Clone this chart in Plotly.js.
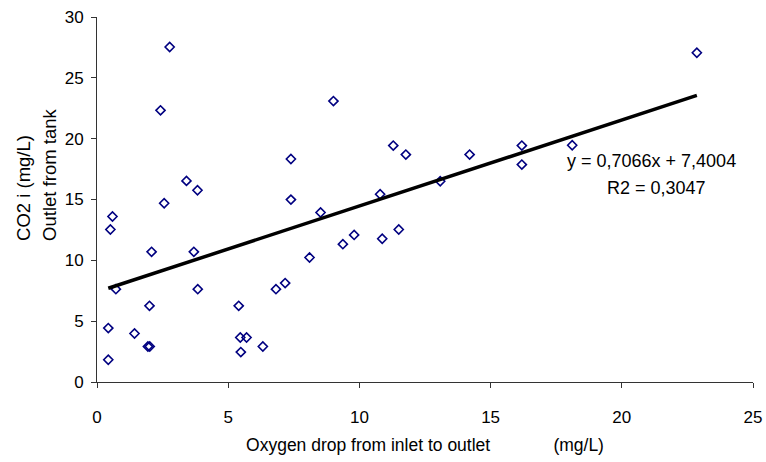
<!DOCTYPE html>
<html>
<head>
<meta charset="utf-8">
<script src="https://cdn.plot.ly/plotly-3.0.1.min.js"></script>
<style>html,body{margin:0;padding:0;background:#fff}#chart{width:766px;height:462px}</style>
</head>
<body>
<div id="chart"></div>
<script>
// Oxygen drop (mg/L) vs outlet CO2 (mg/L)
const oxygenDrop = [2.77, 2.42, 7.39, 3.41, 3.83, 7.39, 2.56, 0.59, 0.51, 2.08, 3.69, 0.72, 3.84, 6.82,
  7.17, 2.00, 5.40, 0.43, 1.43, 5.46, 5.70, 1.94, 2.01, 6.32, 5.48, 0.43, 9.01, 11.29, 11.77, 14.20,
  16.19, 16.19, 13.08, 10.79, 8.52, 9.80, 9.37, 10.87, 11.50, 8.10, 22.86, 18.11];
const co2Outlet = [27.53, 22.33, 18.33, 16.53, 15.76, 14.99, 14.69, 13.60, 12.53, 10.70, 10.70, 7.63, 7.63, 7.63,
  8.13, 6.26, 6.26, 4.43, 3.99, 3.66, 3.66, 2.92, 2.92, 2.92, 2.46, 1.83, 23.09, 19.43, 18.69, 18.69,
  19.43, 17.87, 16.50, 15.43, 13.93, 12.09, 11.33, 11.77, 12.53, 10.23, 27.06, 19.46];
const trendSlope = 0.7066;
const trendIntercept = 7.4004;
const trendR2 = 0.3047;
const xTicks = [0, 5, 10, 15, 20, 25];
const yTicks = [0, 5, 10, 15, 20, 25, 30];

const xMin = Math.min(...oxygenDrop), xMax = Math.max(...oxygenDrop);
const trendX = [xMin, xMax];
const trendY = trendX.map(v => trendSlope * v + trendIntercept);

const fnt = '"Liberation Sans", Arial, sans-serif';
const nb = '\u00a0'.repeat(13);

const data = [
  {x: oxygenDrop, y: co2Outlet, type: 'scatter', mode: 'markers',
   marker: {symbol: 'diamond-open', size: 7, color: '#000080', line: {width: 1.6, color: '#000080'}},
   hoverinfo: 'x+y', showlegend: false},
  {x: trendX, y: trendY, type: 'scatter', mode: 'lines',
   line: {color: '#000000', width: 3.5}, showlegend: false, hoverinfo: 'skip'}
];

const layout = {
  width: 766, height: 462,
  margin: {l: 97, r: 13, t: 17, b: 80},
  paper_bgcolor: '#ffffff', plot_bgcolor: '#ffffff',
  font: {family: fnt, size: 17, color: '#000'},
  showlegend: false,
  xaxis: {
    range: [0, 25], tickvals: xTicks, ticktext: xTicks.map(String),
    showgrid: false, zeroline: false, showline: true, linecolor: '#333', linewidth: 1,
    ticks: 'outside', ticklen: 5, tickcolor: '#333', tickwidth: 1,
    ticklabelstandoff: 15,
    tickfont: {family: fnt, size: 17, color: '#000'},
    title: {text: 'Oxygen drop from inlet to outlet' + nb + '(mg/L)', font: {family: fnt, size: 17.5, color: '#000'}, standoff: 12}
  },
  yaxis: {
    range: [0, 30], tickvals: yTicks, ticktext: yTicks.map(String),
    showgrid: false, zeroline: false, showline: true, linecolor: '#333', linewidth: 1,
    ticks: 'outside', ticklen: 5, tickcolor: '#333', tickwidth: 1,
    ticklabelstandoff: 4,
    tickfont: {family: fnt, size: 17, color: '#000'}
  },
  annotations: [
    {text: 'CO2 i (mg/L)', textangle: -90, xref: 'paper', yref: 'paper', x: -0.1113, y: 0.381,
     xanchor: 'center', yanchor: 'bottom', showarrow: false, font: {family: fnt, size: 18.5, color: '#000'}},
    {text: 'Outlet from tank', textangle: -90, xref: 'paper', yref: 'paper', x: -0.0717, y: 0.381,
     xanchor: 'center', yanchor: 'bottom', showarrow: false, font: {family: fnt, size: 18.5, color: '#000'}},
    {text: 'y = ' + trendSlope.toFixed(4).replace('.', ',') + 'x + ' + trendIntercept.toFixed(4).replace('.', ','),
     xref: 'x', yref: 'y', x: 21.14, y: 18.15, xanchor: 'center', yanchor: 'middle', showarrow: false,
     font: {family: fnt, size: 18, color: '#000'}},
    {text: 'R2 = ' + trendR2.toFixed(4).replace('.', ','),
     xref: 'x', yref: 'y', x: 21.33, y: 15.94, xanchor: 'center', yanchor: 'middle', showarrow: false,
     font: {family: fnt, size: 18, color: '#000'}}
  ]
};

Plotly.newPlot('chart', data, layout, {displayModeBar: false, staticPlot: true});
</script>
</body>
</html>
